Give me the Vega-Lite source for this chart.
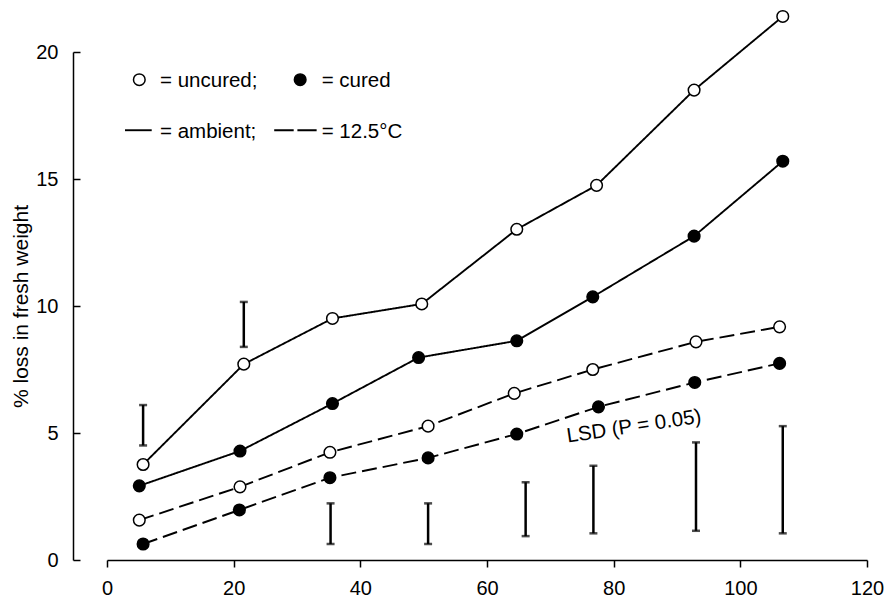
{
  "$schema": "https://vega.github.io/schema/vega-lite/v6.json",
  "autosize": "none",
  "width": 760,
  "height": 508,
  "padding": {"left": 107, "top": 52, "right": 20, "bottom": 39},
  "background": "white",
  "config": {
    "font": "Liberation Sans",
    "view": {"stroke": null},
    "axis": {
      "grid": false,
      "domainColor": "black",
      "domainWidth": 1.5,
      "tickColor": "black",
      "tickWidth": 1.5,
      "labelColor": "black",
      "labelFont": "Liberation Sans",
      "labelFontSize": 20,
      "labelFlush": false,
      "titleColor": "black",
      "titleFont": "Liberation Sans",
      "titleFontSize": 21,
      "titleFontWeight": "normal"
    }
  },
  "datasets": {
    "loss": [
      {"day": 5.7, "loss": 3.76, "cure": "uncured", "temp": "ambient"},
      {"day": 21.6, "loss": 7.71, "cure": "uncured", "temp": "ambient"},
      {"day": 35.6, "loss": 9.51, "cure": "uncured", "temp": "ambient"},
      {"day": 49.7, "loss": 10.08, "cure": "uncured", "temp": "ambient"},
      {"day": 64.7, "loss": 13.02, "cure": "uncured", "temp": "ambient"},
      {"day": 77.3, "loss": 14.75, "cure": "uncured", "temp": "ambient"},
      {"day": 92.7, "loss": 18.5, "cure": "uncured", "temp": "ambient"},
      {"day": 106.7, "loss": 21.4, "cure": "uncured", "temp": "ambient"},
      {"day": 5.1, "loss": 2.92, "cure": "cured", "temp": "ambient"},
      {"day": 21.0, "loss": 4.29, "cure": "cured", "temp": "ambient"},
      {"day": 35.6, "loss": 6.16, "cure": "cured", "temp": "ambient"},
      {"day": 49.2, "loss": 7.97, "cure": "cured", "temp": "ambient"},
      {"day": 64.7, "loss": 8.63, "cure": "cured", "temp": "ambient"},
      {"day": 76.7, "loss": 10.36, "cure": "cured", "temp": "ambient"},
      {"day": 92.7, "loss": 12.75, "cure": "cured", "temp": "ambient"},
      {"day": 106.7, "loss": 15.7, "cure": "cured", "temp": "ambient"},
      {"day": 5.1, "loss": 1.57, "cure": "uncured", "temp": "12.5°C"},
      {"day": 21.0, "loss": 2.88, "cure": "uncured", "temp": "12.5°C"},
      {"day": 35.2, "loss": 4.24, "cure": "uncured", "temp": "12.5°C"},
      {"day": 50.7, "loss": 5.27, "cure": "uncured", "temp": "12.5°C"},
      {"day": 64.3, "loss": 6.56, "cure": "uncured", "temp": "12.5°C"},
      {"day": 76.7, "loss": 7.5, "cure": "uncured", "temp": "12.5°C"},
      {"day": 93.0, "loss": 8.59, "cure": "uncured", "temp": "12.5°C"},
      {"day": 106.2, "loss": 9.18, "cure": "uncured", "temp": "12.5°C"},
      {"day": 5.7, "loss": 0.63, "cure": "cured", "temp": "12.5°C"},
      {"day": 20.9, "loss": 1.97, "cure": "cured", "temp": "12.5°C"},
      {"day": 35.2, "loss": 3.24, "cure": "cured", "temp": "12.5°C"},
      {"day": 50.7, "loss": 4.02, "cure": "cured", "temp": "12.5°C"},
      {"day": 64.7, "loss": 4.96, "cure": "cured", "temp": "12.5°C"},
      {"day": 77.6, "loss": 6.03, "cure": "cured", "temp": "12.5°C"},
      {"day": 92.8, "loss": 6.99, "cure": "cured", "temp": "12.5°C"},
      {"day": 106.2, "loss": 7.74, "cure": "cured", "temp": "12.5°C"}
    ],
    "lsd": [
      {"day": 5.7, "lo": 4.51, "hi": 6.1},
      {"day": 21.6, "lo": 8.39, "hi": 10.16},
      {"day": 35.3, "lo": 0.63, "hi": 2.23},
      {"day": 50.7, "lo": 0.63, "hi": 2.23},
      {"day": 66.1, "lo": 0.94, "hi": 3.06},
      {"day": 76.8, "lo": 1.05, "hi": 3.71},
      {"day": 93.0, "lo": 1.15, "hi": 4.63},
      {"day": 106.7, "lo": 1.05, "hi": 5.27}
    ],
    "one": [{}]
  },
  "encoding": {
    "x": {
      "type": "quantitative",
      "scale": {"domain": [0, 120], "nice": false, "zero": false},
      "axis": {"values": [0, 20, 40, 60, 80, 100, 120], "tickSize": 7, "labelPadding": 11, "labelFlush": false, "title": null}
    },
    "y": {
      "type": "quantitative",
      "scale": {"domain": [0, 20], "nice": false, "zero": false},
      "axis": {"values": [0, 5, 10, 15, 20], "offset": 34, "domain": true, "tickSize": -7, "labelPadding": 22, "titlePadding": 4, "title": "% loss in fresh weight"}
    }
  },
  "layer": [
    {
      "data": {"name": "loss"},
      "mark": {"type": "line", "color": "black", "strokeWidth": 1.9},
      "encoding": {
        "x": {"field": "day"},
        "y": {"field": "loss"},
        "detail": {"field": "cure"},
        "strokeDash": {
          "field": "temp",
          "type": "nominal",
          "scale": {"domain": ["ambient", "12.5°C"], "range": [[1, 0], [15, 6]]},
          "legend": null
        }
      }
    },
    {
      "data": {"name": "lsd"},
      "mark": {"type": "rule", "color": "black", "strokeWidth": 2.5},
      "encoding": {
        "x": {"field": "day"},
        "y": {"field": "lo"},
        "y2": {"field": "hi"}
      }
    },
    {
      "data": {"name": "lsd"},
      "mark": {"type": "tick", "orient": "horizontal", "color": "black", "size": 8, "thickness": 2.5},
      "encoding": {
        "x": {"field": "day"},
        "y": {"field": "lo"}
      }
    },
    {
      "data": {"name": "lsd"},
      "mark": {"type": "tick", "orient": "horizontal", "color": "black", "size": 8, "thickness": 2.5},
      "encoding": {
        "x": {"field": "day"},
        "y": {"field": "hi"}
      }
    },
    {
      "data": {"name": "loss"},
      "mark": {"type": "point", "shape": "circle", "filled": true, "stroke": "black", "strokeWidth": 1.5, "size": 135, "opacity": 1},
      "encoding": {
        "x": {"field": "day"},
        "y": {"field": "loss"},
        "fill": {
          "field": "cure",
          "type": "nominal",
          "scale": {"domain": ["uncured", "cured"], "range": ["white", "black"]},
          "legend": null
        }
      }
    },
    {
      "data": {"name": "one"},
      "mark": {"type": "point", "shape": "circle", "filled": true, "fill": "white", "stroke": "black", "strokeWidth": 1.5, "size": 135, "opacity": 1},
      "encoding": {"x": {"datum": 5.1}, "y": {"datum": 18.91}}
    },
    {
      "data": {"name": "one"},
      "mark": {"type": "point", "shape": "circle", "filled": true, "fill": "black", "stroke": "black", "strokeWidth": 1.5, "size": 135, "opacity": 1},
      "encoding": {"x": {"datum": 30.5}, "y": {"datum": 18.91}}
    },
    {
      "data": {"name": "one"},
      "mark": {"type": "rule", "color": "black", "strokeWidth": 1.9},
      "encoding": {"x": {"datum": 2.84}, "x2": {"datum": 7.06}, "y": {"datum": 16.92}}
    },
    {
      "data": {"name": "one"},
      "mark": {"type": "rule", "color": "black", "strokeWidth": 1.9, "strokeDash": [19.5, 3.7]},
      "encoding": {"x": {"datum": 26.4}, "x2": {"datum": 33.1}, "y": {"datum": 16.92}}
    },
    {
      "data": {"name": "one"},
      "mark": {"type": "text", "align": "left", "baseline": "alphabetic", "fontSize": 20.5, "color": "black"},
      "encoding": {"x": {"datum": 8.37}, "y": {"datum": 18.62}, "text": {"value": "= uncured;"}}
    },
    {
      "data": {"name": "one"},
      "mark": {"type": "text", "align": "left", "baseline": "alphabetic", "fontSize": 20.5, "color": "black"},
      "encoding": {"x": {"datum": 33.9}, "y": {"datum": 18.62}, "text": {"value": "= cured"}}
    },
    {
      "data": {"name": "one"},
      "mark": {"type": "text", "align": "left", "baseline": "alphabetic", "fontSize": 20.5, "color": "black"},
      "encoding": {"x": {"datum": 8.37}, "y": {"datum": 16.61}, "text": {"value": "= ambient;"}}
    },
    {
      "data": {"name": "one"},
      "mark": {"type": "text", "align": "left", "baseline": "alphabetic", "fontSize": 20.5, "color": "black"},
      "encoding": {"x": {"datum": 33.9}, "y": {"datum": 16.61}, "text": {"value": "= 12.5°C"}}
    },
    {
      "data": {"name": "one"},
      "mark": {"type": "text", "align": "center", "baseline": "middle", "fontSize": 20.5, "angle": -8.5, "color": "black"},
      "encoding": {"x": {"datum": 83.2}, "y": {"datum": 5.25}, "text": {"value": "LSD (P = 0.05)"}}
    }
  ]
}
